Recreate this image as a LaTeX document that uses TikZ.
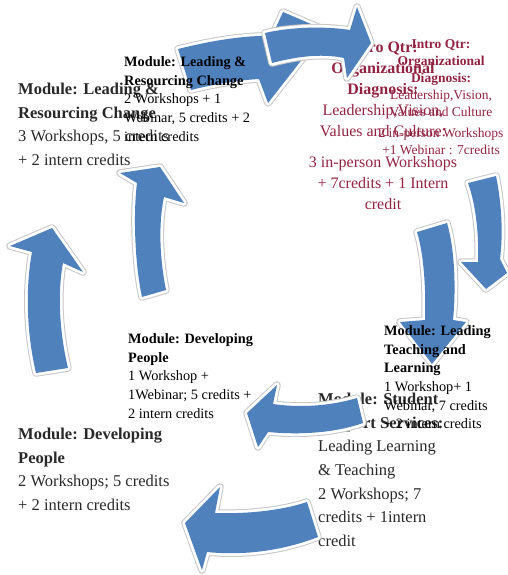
\documentclass[tikz,border=0pt]{standalone}
\usepackage{fontspec}
\setmainfont{Liberation Serif}
\definecolor{arrowblue}{RGB}{79,129,189}
\definecolor{introcol}{RGB}{145,35,65}
\definecolor{bigcol}{RGB}{40,40,40}
\tikzset{
  cyclearrow/.style={fill=arrowblue, line join=round,
    preaction={draw=black!22, line width=7.5pt, line join=round},
    preaction={draw=white, line width=5.5pt, line join=round}},
  bigtxt/.style={font=\fontsize{16.5}{23.7}\selectfont, text=bigcol, inner sep=0pt, align=left, anchor=north west},
  bigintro/.style={font=\fontsize{16}{21}\selectfont, text=introcol, inner sep=0pt, align=center, anchor=north},
  smalltxt/.style={font=\fontsize{14.3}{18.7}\selectfont, text=black, inner sep=0pt, align=left, anchor=north west},
  smallintro/.style={font=\fontsize{13.5}{17}\selectfont, text=introcol, inner sep=0pt, align=center, anchor=north}
}
\begin{document}
\begin{tikzpicture}[x=1pt,y=-1pt]
\useasboundingbox (0,0) rectangle (507,575);
% ---- large cycle texts (underneath) ----
\node[bigtxt] (bigres) at (18,82.8) {\textbf{Module: Leading \&}\\ \textbf{Resourcing Change}\\ 3 Workshops, 5 credits\\ + 2 intern credits};
\node[bigintro] (bigintro) at (383,41.4) {\textbf{Intro Qtr:}\\ \textbf{Organizational}\\ \textbf{Diagnosis:}\\ Leadership,Vision,\\ Values and Culture:\\[10pt] 3 in-person Workshops\\ + 7credits + 1 Intern\\ credit};
\node[bigtxt] (bigstu) at (318,392.8) {\textbf{Module: Student}\\ \textbf{Support Services:}\\ Leading Learning\\ \& Teaching\\ 2 Workshops; 7\\ credits + 1intern\\ credit};
\node[bigtxt] (bigdev) at (18,427.8) {\textbf{Module: Developing}\\ \textbf{People}\\ 2 Workshops; 5 credits\\ + 2 intern credits};
% ---- small cycle arrows ----
% top (right-pointing)
\path[cyclearrow] (325,30) -- (268,103) -- (259,79) .. controls (240,80) and (215,84) .. (191,90) -- (178,49) .. controls (210,41) and (245,35) .. (272,36) -- (283,12) -- cycle;
% right (down-pointing)
\path[cyclearrow] (447,223) .. controls (455,250) and (456,290) .. (453,320) -- (466,322) -- (432,364) -- (400,322) -- (425,320) .. controls (426,290) and (424,255) .. (417,232) -- cycle;
% bottom right (left-pointing)
\path[cyclearrow] (247,413) -- (277,385) -- (273,404) .. controls (300,408) and (330,406) .. (357,398) -- (363,423) .. controls (335,433) and (300,435) .. (268,432) -- (258,447) -- cycle;
% upper left (up-pointing)
\path[cyclearrow] (160,167) -- (184,203) -- (164,197) .. controls (158,225) and (160,260) .. (166,290) -- (142,297) .. controls (135,265) and (133,215) .. (137,183) -- (120,173) -- cycle;
% ---- large cycle arrows ----
% top (right-pointing)
\path[cyclearrow] (371,43) -- (347,78) -- (344,58) .. controls (320,53) and (295,57) .. (272,63) -- (265,33) .. controls (290,27) and (325,26) .. (350,30) -- (357,7) -- cycle;
% right (down-pointing)
\path[cyclearrow] (496,176) .. controls (502,205) and (503,235) .. (500,259) -- (507,273) -- (486,289) -- (461,262) -- (478,262) .. controls (479,235) and (476,205) .. (468,183) -- cycle;
% bottom (left-pointing)
\path[cyclearrow] (185,523) -- (220,487) -- (215,513) .. controls (245,514) and (280,511) .. (307,502) -- (318,537) .. controls (285,550) and (245,556) .. (207,552) -- (202,570) -- cycle;
% left (up-pointing)
\path[cyclearrow] (52,228) -- (83,272) -- (63,263) .. controls (57,295) and (60,335) .. (68,368) -- (36,373) .. controls (27,335) and (25,290) .. (32,252) -- (10,246) -- cycle;
% ---- small cycle texts (on top) ----
\node[smalltxt] (smres) at (124,56.3) {\textbf{Module: Leading \&}\\ \textbf{Resourcing Change}\\ 2 Workshops + 1\\ Webinar, 5 credits + 2\\ intern credits};
\node[smallintro] (smintro) at (441,39.1) {\textbf{Intro Qtr:}\\ \textbf{Organizational}\\ \textbf{Diagnosis:}\\ Leadership,Vision,\\ Values and Culture\\[4pt] 2 in-person Workshops\\ +1 Webinar : 7credits};
\node[smalltxt] (smtea) at (384,325.3) {\textbf{Module: Leading}\\ \textbf{Teaching and}\\ \textbf{Learning}\\ 1 Workshop+ 1\\ Webinar, 7 credits\\ + 2 intern credits};
\node[smalltxt] (smdev) at (128,333.3) {\textbf{Module: Developing}\\ \textbf{People}\\ 1 Workshop +\\ 1Webinar; 5 credits +\\ 2 intern credits};
\end{tikzpicture}
\end{document}
